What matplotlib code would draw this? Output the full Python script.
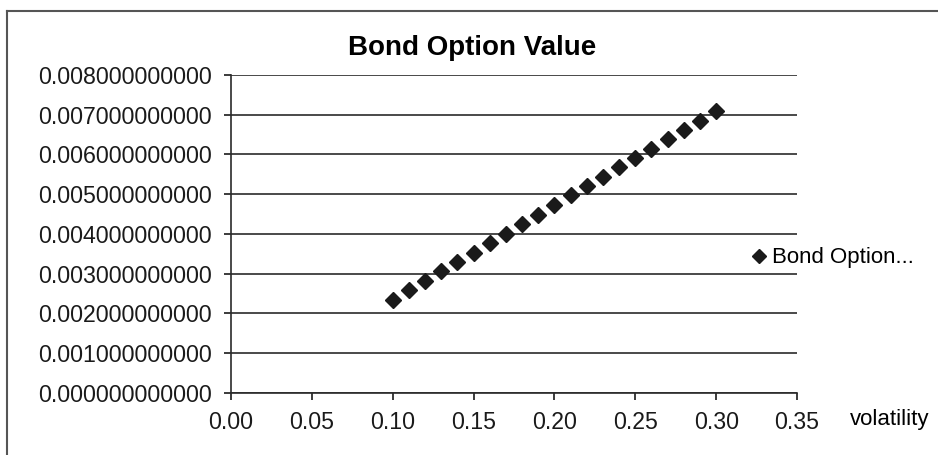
import matplotlib.pyplot as plt
from matplotlib.lines import Line2D
from matplotlib.ticker import FormatStrFormatter, MultipleLocator

plt.rcParams['font.family'] = ['Liberation Sans', 'DejaVu Sans']

volatility = [0.10, 0.11, 0.12, 0.13, 0.14, 0.15, 0.16, 0.17, 0.18, 0.19, 0.20,
              0.21, 0.22, 0.23, 0.24, 0.25, 0.26, 0.27, 0.28, 0.29, 0.30]
option_value = [0.002337, 0.002580, 0.002814, 0.003057, 0.003291, 0.003518,
                0.003769, 0.004003, 0.004246, 0.004481, 0.004724, 0.004975,
                0.005209, 0.005444, 0.005678, 0.005913, 0.006147, 0.006382,
                0.006616, 0.006843, 0.007085]

fig = plt.figure(figsize=(9.38, 4.55), dpi=100)
ax = fig.add_axes([0.2463, 0.1363, 0.8497 - 0.2463, 0.8352 - 0.1363])

ax.plot(volatility, option_value, linestyle='none', marker='D', markersize=8,
        color='#1a1a1a', label='Bond Option...', clip_on=False)

ax.set_xlim(0, 0.35)
ax.set_ylim(0, 0.008)
ax.xaxis.set_major_locator(MultipleLocator(0.05))
ax.yaxis.set_major_locator(MultipleLocator(0.001))
ax.xaxis.set_major_formatter(FormatStrFormatter('%.2f'))
ax.yaxis.set_major_formatter(FormatStrFormatter('%.12f'))
ax.grid(axis='y', color='#2a2a2a', linewidth=1.2)
ax.set_axisbelow(True)

for s in ['top', 'right']:
    ax.spines[s].set_visible(False)
for s in ['left', 'bottom']:
    ax.spines[s].set_color('#2a2a2a')
    ax.spines[s].set_linewidth(1.2)

ax.tick_params(axis='both', labelsize=16.7, colors='#1a1a1a', length=5, width=1.2)
ax.tick_params(axis='y', pad=9)
ax.tick_params(axis='x', pad=8)

# title is centred on the whole chart area, not on the plot
fig.text(472 / 938, 1 - 48 / 455, 'Bond Option Value', fontsize=20,
         fontweight='bold', ha='center', va='center')
ax.set_xlabel('volatility', fontsize=16)
ax.xaxis.set_label_coords(1.163, -0.05)

ax.legend(loc='center left', bbox_to_anchor=(741 / 938, 1 - 258 / 455),
          bbox_transform=fig.transFigure, frameon=False, fontsize=16,
          handlelength=0.6, handletextpad=0.3, markerscale=0.9, borderpad=0)

# chart area border (left and top edges visible)
fig.add_artist(Line2D([7 / 938, 7 / 938], [0, 1 - 11 / 455],
                      transform=fig.transFigure, color='#555555', linewidth=1.5))
fig.add_artist(Line2D([7 / 938, 1], [1 - 11 / 455, 1 - 11 / 455],
                      transform=fig.transFigure, color='#555555', linewidth=1.5))

fig.savefig('out.png', dpi=100)
